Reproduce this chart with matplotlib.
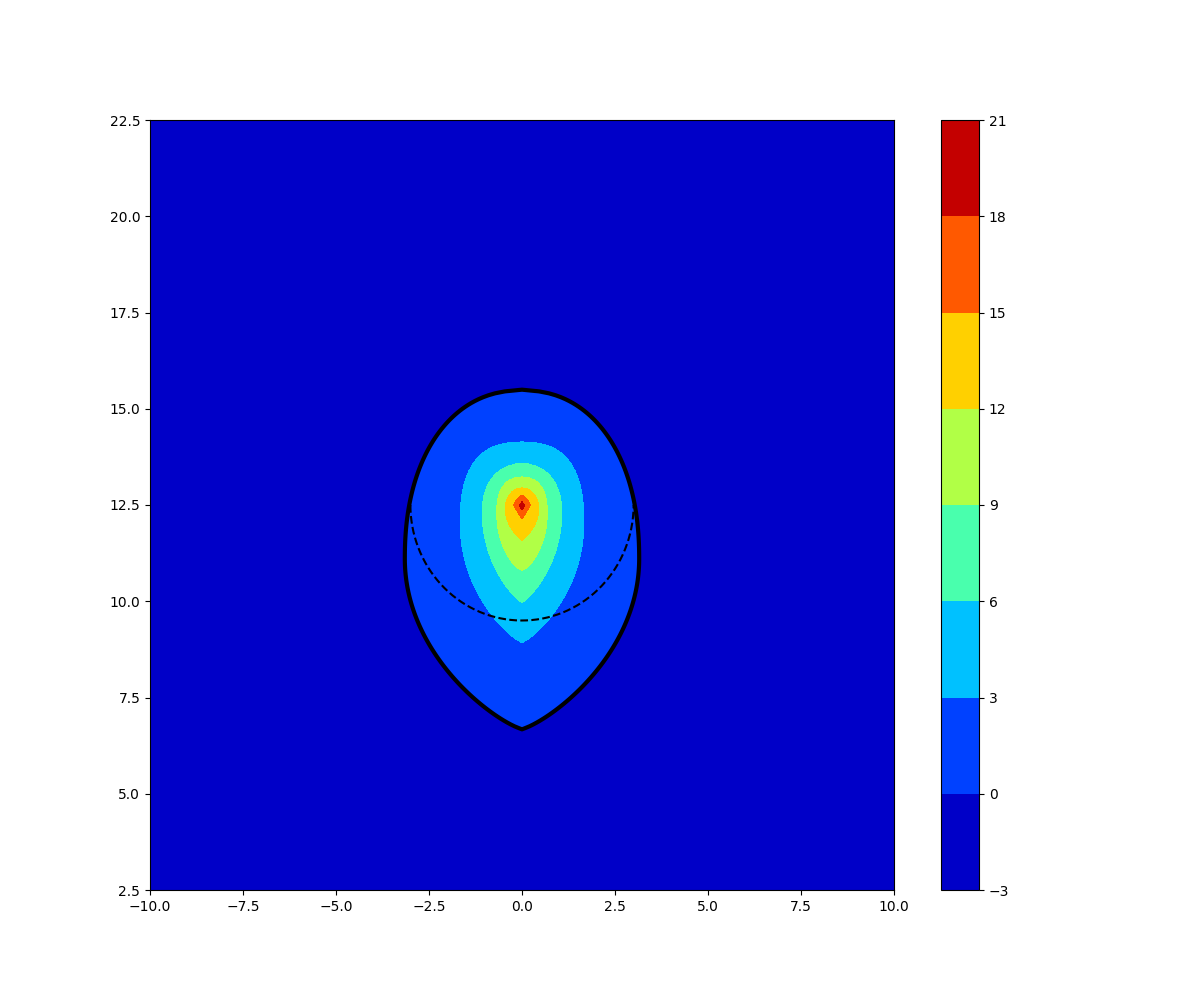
import numpy as np
import matplotlib
matplotlib.use("Agg")
import matplotlib.pyplot as plt

# contour levels and the shape of each level line
contour_levels = [0, 3, 6, 9, 12, 15, 18]
top_y = [15.48, 14.13, 13.57, 13.22, 12.95, 12.75, 12.6]
bottom_y = [6.68, 8.93, 9.97, 10.80, 11.58, 12.14, 12.38]
widest_y = [11.1, 12.0, 12.3, 12.3, 12.4, 12.49, 12.5]
half_width = [3.15, 1.66, 1.07, 0.68, 0.45, 0.23, 0.08]
upper_power = [2.2, 2.6, 2.2, 2.4, 2.0, 1.3, 1.0]
lower_power = [2.0, 2.0, 2.0, 2.0, 2.0, 1.0, 1.0]
lower_exp = [0.8, 0.8, 0.82, 0.7, 0.93, 1.0, 1.0]

band_edges = np.arange(-3, 22, 3)
source_center = (0.0, 12.5)
source_radius = 3.0

x = np.linspace(-10, 10, 401)
y = np.linspace(2.5, 22.5, 401)
X, Y = np.meshgrid(x, y)


def shape_rho(k):
    # 1 on the level line, <1 inside, >1 outside
    ax_ = np.abs(X) / half_width[k]
    t = (Y - widest_y[k]) / (top_y[k] - widest_y[k])
    s = (widest_y[k] - Y) / (widest_y[k] - bottom_y[k])
    p = upper_power[k]
    up = np.clip(1 - np.clip(t, 0, 1) ** p, 0, 1) ** (1 / p) - np.clip(t - 1, 0, None) * 3
    q = lower_power[k]
    lo = np.clip(1 - np.clip(s, 0, 1) ** q, 0, 1) ** lower_exp[k] - np.clip(s - 1, 0, None) * 3
    g = np.where(Y >= widest_y[k], up, lo)
    return 1 + ax_ - g


Z = np.full(X.shape, -1.5)
for k in range(len(contour_levels)):
    Z += 3 * np.clip(0.5 + 4 * (1 - shape_rho(k)), 0, 1)

fig = plt.figure(figsize=(12, 10), dpi=100)
cs = plt.contourf(X, Y, Z, band_edges, cmap='jet')
plt.contour(X, Y, Z, [0], colors='k', linewidths=3)
theta = np.linspace(np.pi, 2 * np.pi, 200)
plt.plot(source_center[0] + source_radius * np.cos(theta),
         source_center[1] + source_radius * np.sin(theta), 'k--', lw=1.5)
plt.colorbar(cs)
plt.savefig("out.png")
